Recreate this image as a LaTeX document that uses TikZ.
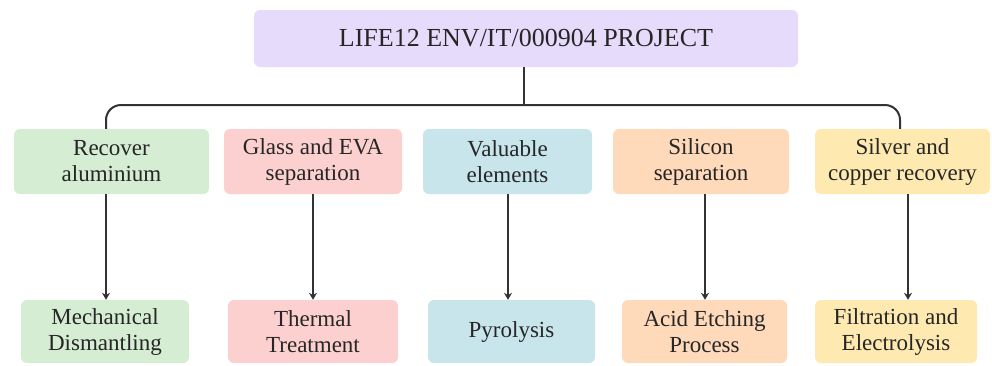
\documentclass[tikz,border=0pt]{standalone}
\usepackage{fontspec}
\setmainfont{Liberation Serif}
\usetikzlibrary{arrows.meta}
\definecolor{cpurple}{HTML}{E7DBFC}
\definecolor{cgreen}{HTML}{D5EDD2}
\definecolor{cpink}{HTML}{FDD0D0}
\definecolor{cblue}{HTML}{C8E5EB}
\definecolor{corange}{HTML}{FEDABB}
\definecolor{cyellow}{HTML}{FEE9B1}
\definecolor{cline}{HTML}{333333}
\definecolor{ctext}{HTML}{262626}
\tikzset{
  box/.style={rounded corners=6pt, inner sep=0pt, align=center, text=ctext,
    font=\fontsize{23}{26}\selectfont},
  conn/.style={draw=cline, line width=2pt},
  arr/.style={conn, -{Stealth[length=7pt,width=8pt]}},
}
\begin{document}
\begin{tikzpicture}[x=1pt,y=-1pt]
\useasboundingbox (0,0) rectangle (992,365);
% top
\node[box, fill=cpurple, minimum width=544pt, minimum height=57pt,
  font=\fontsize{26}{28}\selectfont] (top) at (526,38.5) {LIFE12 ENV/IT/000904 PROJECT};
% row 1
\node[box, fill=cgreen,  minimum width=195pt, minimum height=65pt] (r1) at (111.5,161.5) {Recover\\aluminium};
\node[box, fill=cpink,   minimum width=178pt, minimum height=65pt] (r2) at (313,161.5) {Glass and EVA\\separation};
\node[box, fill=cblue,   minimum width=169pt, minimum height=65pt] (r3) at (507.5,161.5) {Valuable\\elements};
\node[box, fill=corange, minimum width=176pt, minimum height=65pt] (r4) at (701,161.5) {Silicon\\separation};
\node[box, fill=cyellow, minimum width=175pt, minimum height=65pt] (r5) at (902.5,161.5) {Silver and\\copper recovery};
% row 2
\node[box, fill=cgreen,  minimum width=168pt, minimum height=63pt] (b1) at (105,331.5) {Mechanical\\Dismantling};
\node[box, fill=cpink,   minimum width=170pt, minimum height=63pt] (b2) at (313,331.5) {Thermal\\Treatment};
\node[box, fill=cblue,   minimum width=167pt, minimum height=63pt] (b3) at (511.5,331.5) {Pyrolysis};
\node[box, fill=corange, minimum width=165pt, minimum height=63pt] (b4) at (704.5,331.5) {Acid Etching\\Process};
\node[box, fill=cyellow, minimum width=162pt, minimum height=63pt] (b5) at (896,331.5) {Filtration and\\Electrolysis};
% tree connectors
\coordinate (hub) at (524,105);
\coordinate (t1) at (106,0);
\coordinate (t5) at (900,0);
\draw[conn] (top.south -| hub) -- (hub);
\draw[conn, rounded corners=15pt] (r1.north -| t1) |- (hub) -| (r5.north -| t5);
% arrows
\coordinate (k1) at (106,0);
\coordinate (k2) at (313,0);
\coordinate (k3) at (508,0);
\coordinate (k4) at (705,0);
\coordinate (k5) at (908,0);
\draw[arr] (r1.south -| k1) -- (b1.north -| k1);
\draw[arr] (r2.south -| k2) -- (b2.north -| k2);
\draw[arr] (r3.south -| k3) -- (b3.north -| k3);
\draw[arr] (r4.south -| k4) -- (b4.north -| k4);
\draw[arr] (r5.south -| k5) -- (b5.north -| k5);
\end{tikzpicture}
\end{document}
